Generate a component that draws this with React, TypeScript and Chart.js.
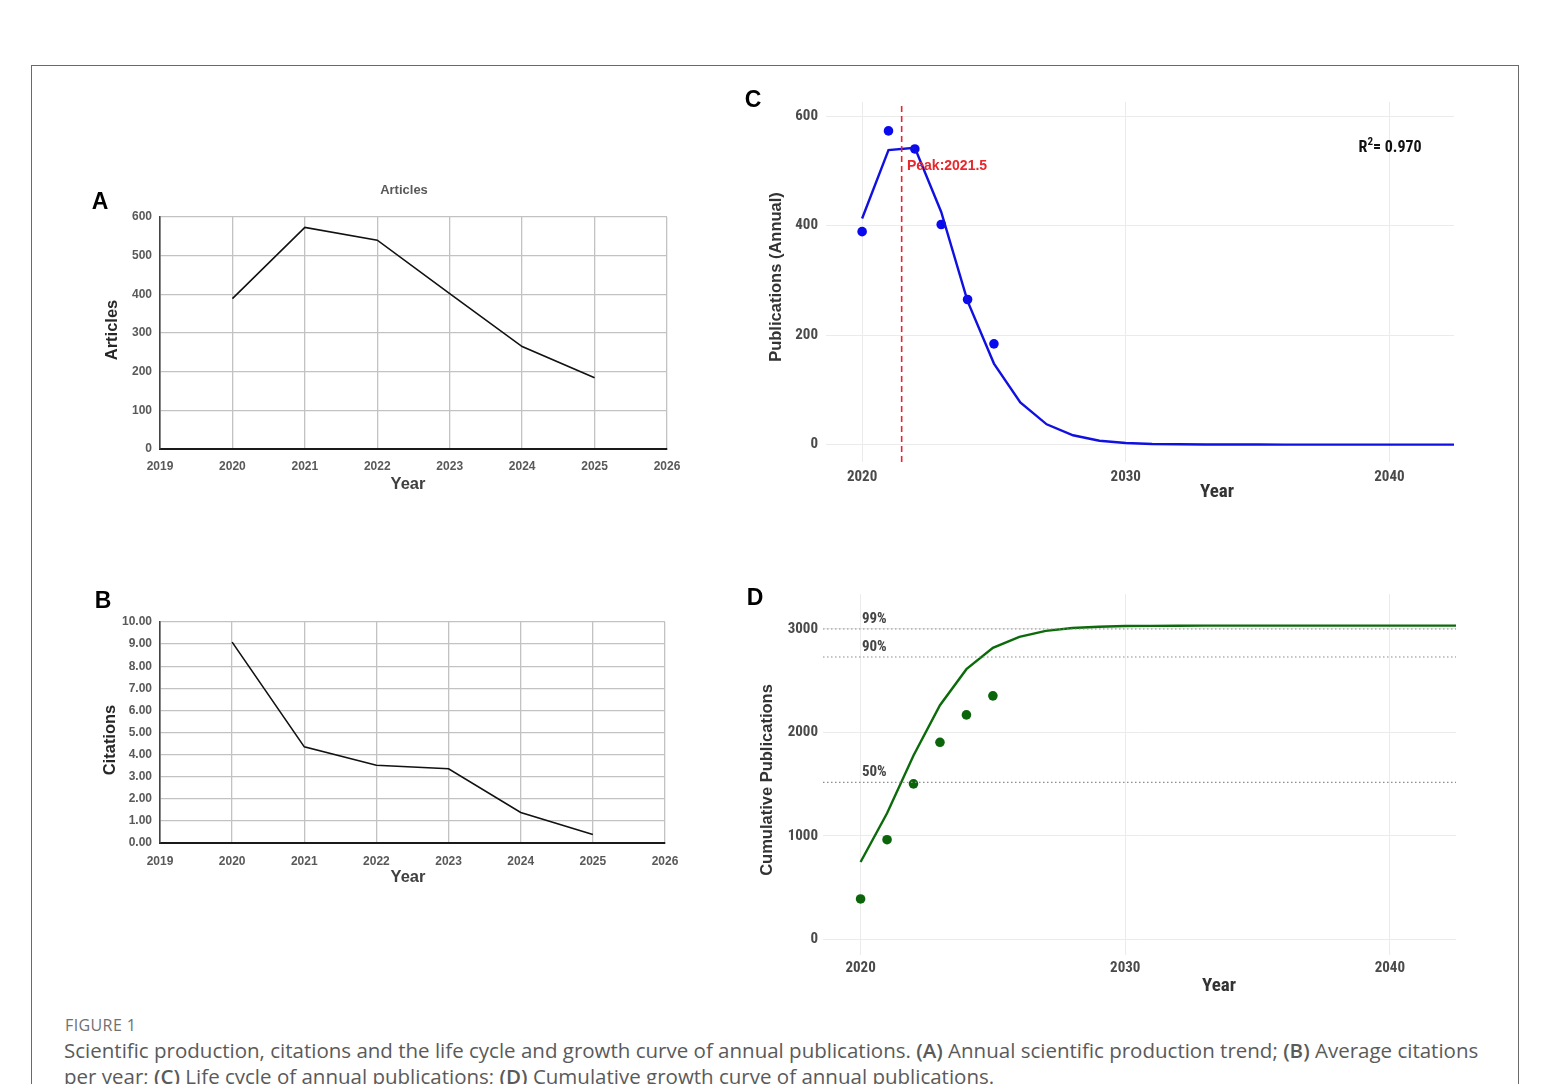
import React, { useEffect, useRef } from "react";
import { Chart, registerables } from "chart.js";
Chart.register(...registerables);

// ---------------- data ----------------
const years = [2020, 2021, 2022, 2023, 2024, 2025];
const articles = [389, 573, 540, 402, 265, 184];
const avgCitations = [9.09, 4.35, 3.52, 3.36, 1.38, 0.38];
const cumulativeArticles = [389, 962, 1502, 1904, 2169, 2353];

const fitYears = [2020, 2021, 2022, 2023, 2024, 2025, 2026, 2027, 2028, 2029, 2030, 2031, 2032, 2033, 2034, 2035, 2036, 2037, 2038, 2039, 2040, 2041, 2042, 2043];
const fitAnnual = [413, 538, 542, 425, 262, 148, 77, 37, 17, 7, 3, 1.2, 0.5, 0.2, 0.1, 0.05, 0, 0, 0, 0, 0, 0, 0, 0];
const fitCumulative = [746, 1218, 1776, 2263, 2611, 2818, 2923, 2981, 3009, 3022, 3028, 3030, 3031, 3032, 3032, 3032, 3032, 3032, 3032, 3032, 3032, 3032, 3032, 3032];

const peakYear = 2021.5;
const rSquared = "0.970";
const saturationLevels = [3000, 2729, 1516];
const saturationLabels = ["99%", "90%", "50%"];

const xTicksAB = [2019, 2020, 2021, 2022, 2023, 2024, 2025, 2026];
const yTicksA = [0, 100, 200, 300, 400, 500, 600];
const yTicksB = [0, 1, 2, 3, 4, 5, 6, 7, 8, 9, 10];
const xTicksCD = [2020, 2030, 2040];
const yTicksC = [0, 200, 400, 600];
const yTicksD = [0, 1000, 2000, 3000];

// ---------------- styling ----------------
const sans = "'Liberation Sans', Arial, sans-serif";
const narrow = "'Liberation Sans Narrow', 'Arial Narrow', 'Roboto Condensed', 'DejaVu Sans Condensed', 'Liberation Sans', sans-serif";

type Box = { left: number; top: number; width: number; height: number };
type Area = { left: number; top: number; right: number; bottom: number };

type Run = { text: string; font: string; dy?: number };
type TextItem = {
  text?: string;
  runs?: Run[];
  x: number;
  y: number;
  font?: string;
  color: string;
  align?: CanvasTextAlign;
  rotate?: boolean;
  data?: boolean;
  dyPx?: number;
};

function textPlugin(items: TextItem[], ox: number, oy: number) {
  return {
    id: "pageText",
    afterDatasetsDraw(chart: any) {
      const ctx = chart.ctx as CanvasRenderingContext2D;
      items.forEach((it) => {
        let x = it.x - ox;
        let y = it.y - oy;
        if (it.data) {
          x = chart.scales.x.getPixelForValue(it.x);
          y = chart.scales.y.getPixelForValue(it.y);
        }
        y += it.dyPx || 0;
        ctx.save();
        ctx.translate(x, y);
        if (it.rotate) ctx.rotate(-Math.PI / 2);
        ctx.fillStyle = it.color;
        ctx.textBaseline = "middle";
        if (it.runs) {
          ctx.textAlign = "left";
          let cx = 0;
          it.runs.forEach((r) => {
            ctx.font = r.font;
            ctx.fillText(r.text, cx, r.dy || 0);
            cx += ctx.measureText(r.text).width;
          });
        } else {
          ctx.font = it.font || `bold 13px ${sans}`;
          ctx.textAlign = it.align || "center";
          ctx.fillText(it.text || "", 0, 0);
        }
        ctx.restore();
      });
    },
  };
}

function layoutFor(box: Box, area: Area) {
  return {
    padding: { top: area.top - box.top, right: box.left + box.width - area.right, left: 0, bottom: 0 },
    yWidth: area.left - box.left,
    xHeight: box.top + box.height - area.bottom,
  };
}

const fixTicks = (vals: number[]) => (scale: any) => {
  scale.ticks = vals.map((v) => ({ value: v }));
};

function axis(o: {
  min: number;
  max: number;
  ticks: number[];
  fmt: (v: number) => string;
  fitW?: number;
  fitH?: number;
  font: any;
  color: string;
  pad: number;
  gridColor: string;
  gridWidth: number;
  border: any;
}) {
  return {
    type: "linear",
    min: o.min,
    max: o.max,
    afterBuildTicks: fixTicks(o.ticks),
    afterFit: (s: any) => {
      if (o.fitW !== undefined) s.width = o.fitW;
      if (o.fitH !== undefined) s.height = o.fitH;
    },
    ticks: {
      callback: (v: any) => o.fmt(Number(v)),
      font: o.font,
      color: o.color,
      padding: o.pad,
      maxRotation: 0,
      autoSkip: false,
    },
    grid: { color: o.gridColor, lineWidth: o.gridWidth, drawTicks: false },
    border: o.border,
  };
}

function ChartPanel({ box, makeConfig }: { box: Box; makeConfig: () => any }) {
  const ref = useRef<HTMLCanvasElement | null>(null);
  useEffect(() => {
    if (!ref.current) return;
    const chart = new Chart(ref.current, makeConfig());
    return () => chart.destroy();
  }, []);
  return (
    <canvas
      ref={ref}
      width={box.width}
      height={box.height}
      style={{ position: "absolute", left: box.left, top: box.top, width: box.width, height: box.height }}
    />
  );
}

const baseOptions = {
  animation: false,
  responsive: false,
  devicePixelRatio: 1,
  plugins: { legend: { display: false }, tooltip: { enabled: false } },
  elements: { line: { tension: 0 } },
};

// ---------------- Panel A ----------------
const boxA: Box = { left: 40, top: 170, width: 680, height: 340 };
const areaA: Area = { left: 160, top: 217, right: 667, bottom: 449 };
function configA() {
  const L = layoutFor(boxA, areaA);
  const tickFont = { family: sans, size: 12, weight: "bold" };
  return {
    type: "line",
    data: {
      datasets: [
        {
          data: years.map((y, i) => ({ x: y, y: articles[i] })),
          borderColor: "#111",
          borderWidth: 1.6,
          pointRadius: 0,
          fill: false,
        },
      ],
    },
    options: {
      ...baseOptions,
      layout: { padding: L.padding },
      scales: {
        x: axis({ min: 2019, max: 2026, ticks: xTicksAB, fmt: (v) => String(v), fitH: L.xHeight, font: tickFont, color: "#595959", pad: 10, gridColor: "#c2c2c2", gridWidth: 1.3, border: { color: "#1a1a1a", width: 2 } }),
        y: axis({ min: 0, max: 600, ticks: yTicksA, fmt: (v) => String(v), fitW: L.yWidth, font: tickFont, color: "#595959", pad: 8, gridColor: "#c2c2c2", gridWidth: 1.3, border: { color: "#444", width: 1.6 } }),
      },
    },
    plugins: [
      textPlugin(
        [
          { text: "A", x: 100, y: 203, font: `bold 23px ${sans}`, color: "#000" },
          { text: "Articles", x: 404, y: 190, font: `bold 13px ${sans}`, color: "#595959" },
          { text: "Articles", x: 112, y: 330, font: `bold 16.5px ${sans}`, color: "#262626", rotate: true },
          { text: "Year", x: 408, y: 484, font: `bold 16.5px ${sans}`, color: "#404040" },
        ],
        boxA.left,
        boxA.top
      ),
    ],
  };
}

// ---------------- Panel B ----------------
const boxB: Box = { left: 40, top: 585, width: 680, height: 320 };
const areaB: Area = { left: 160, top: 622, right: 665, bottom: 843 };
function configB() {
  const L = layoutFor(boxB, areaB);
  const tickFont = { family: sans, size: 12, weight: "bold" };
  return {
    type: "line",
    data: {
      datasets: [
        {
          data: years.map((y, i) => ({ x: y, y: avgCitations[i] })),
          borderColor: "#111",
          borderWidth: 1.6,
          pointRadius: 0,
          fill: false,
        },
      ],
    },
    options: {
      ...baseOptions,
      layout: { padding: L.padding },
      scales: {
        x: axis({ min: 2019, max: 2026, ticks: xTicksAB, fmt: (v) => String(v), fitH: L.xHeight, font: tickFont, color: "#595959", pad: 11, gridColor: "#c2c2c2", gridWidth: 1.3, border: { color: "#1a1a1a", width: 2 } }),
        y: axis({ min: 0, max: 10, ticks: yTicksB, fmt: (v) => v.toFixed(2), fitW: L.yWidth, font: tickFont, color: "#595959", pad: 8, gridColor: "#c2c2c2", gridWidth: 1.3, border: { color: "#444", width: 1.6 } }),
      },
    },
    plugins: [
      textPlugin(
        [
          { text: "B", x: 103, y: 602, font: `bold 23px ${sans}`, color: "#000" },
          { text: "Citations", x: 110, y: 740, font: `bold 16.5px ${sans}`, color: "#262626", rotate: true },
          { text: "Year", x: 408, y: 877, font: `bold 16.5px ${sans}`, color: "#404040" },
        ],
        boxB.left,
        boxB.top
      ),
    ],
  };
}

// ---------------- Panel C ----------------
const boxC: Box = { left: 745, top: 85, width: 760, height: 430 };
const areaC: Area = { left: 826, top: 97, right: 1454, bottom: 462 };
const cXMin = 2018.63;
const cXMax = 2042.45;
const cYMin = -31.8;
const cYMax = 625.8;
function configC() {
  const L = layoutFor(boxC, areaC);
  const tickFont = { family: narrow, size: 15, weight: "bold" };
  return {
    type: "line",
    data: {
      datasets: [
        {
          data: [
            { x: peakYear, y: cYMin },
            { x: peakYear, y: cYMax },
          ],
          borderColor: "#e8262b",
          borderWidth: 1.6,
          borderDash: [6, 4],
          pointRadius: 0,
        },
        {
          data: fitYears.map((y, i) => ({ x: y, y: fitAnnual[i] })),
          borderColor: "#1010e0",
          borderWidth: 2.4,
          pointRadius: 0,
        },
        {
          data: years.map((y, i) => ({ x: y, y: articles[i] })),
          showLine: false,
          pointRadius: 4.8,
          pointBackgroundColor: "#0a0aef",
          pointBorderColor: "#0a0aef",
          pointBorderWidth: 0,
        },
      ],
    },
    options: {
      ...baseOptions,
      layout: { padding: L.padding },
      scales: {
        x: axis({ min: cXMin, max: cXMax, ticks: xTicksCD, fmt: (v) => String(v), fitH: L.xHeight, font: tickFont, color: "#4a4a4a", pad: 6, gridColor: "#ebebeb", gridWidth: 1, border: { display: false } }),
        y: axis({ min: cYMin, max: cYMax, ticks: yTicksC, fmt: (v) => String(v), fitW: L.yWidth, font: tickFont, color: "#4a4a4a", pad: 8, gridColor: "#ebebeb", gridWidth: 1, border: { display: false } }),
      },
    },
    plugins: [
      textPlugin(
        [
          { text: "C", x: 753, y: 101, font: `bold 23px ${sans}`, color: "#000" },
          { text: "Publications (Annual)", x: 776, y: 277, font: `bold 16.5px ${sans}`, color: "#333", rotate: true },
          { text: "Year", x: 1217, y: 492, font: `bold 19px ${narrow}`, color: "#333" },
          { text: "Peak:" + String(peakYear), x: 2021.7, y: 508, data: true, align: "left", font: `bold 14px ${sans}`, color: "#e8262b" },
          {
            x: 2038.83,
            y: 542,
            data: true,
            color: "#111",
            runs: [
              { text: "R", font: `bold 16px ${narrow}` },
              { text: "2", font: `bold 11px ${narrow}`, dy: -6 },
              { text: "= " + rSquared, font: `bold 16px ${narrow}` },
            ],
          },
        ],
        boxC.left,
        boxC.top
      ),
    ],
  };
}

// ---------------- Panel D ----------------
const boxD: Box = { left: 745, top: 580, width: 760, height: 430 };
const areaD: Area = { left: 823, top: 591, right: 1456, bottom: 955 };
const dXMin = 2018.58;
const dXMax = 2042.5;
const dYMin = -153;
const dYMax = 3338;
function configD() {
  const L = layoutFor(boxD, areaD);
  const tickFont = { family: narrow, size: 15, weight: "bold" };
  const levelSets = saturationLevels.map((lvl) => ({
    data: [
      { x: dXMin, y: lvl },
      { x: dXMax, y: lvl },
    ],
    borderColor: "#8c8c8c",
    borderWidth: 1.1,
    borderDash: [1.5, 2.5],
    pointRadius: 0,
  }));
  return {
    type: "line",
    data: {
      datasets: [
        ...levelSets,
        {
          data: fitYears.map((y, i) => ({ x: y, y: fitCumulative[i] })),
          borderColor: "#0b6b0b",
          borderWidth: 2.4,
          pointRadius: 0,
        },
        {
          data: years.map((y, i) => ({ x: y, y: cumulativeArticles[i] })),
          showLine: false,
          pointRadius: 4.8,
          pointBackgroundColor: "#0b650b",
          pointBorderColor: "#0b650b",
          pointBorderWidth: 0,
        },
      ],
    },
    options: {
      ...baseOptions,
      layout: { padding: L.padding },
      scales: {
        x: axis({ min: dXMin, max: dXMax, ticks: xTicksCD, fmt: (v) => String(v), fitH: L.xHeight, font: tickFont, color: "#4a4a4a", pad: 4, gridColor: "#ebebeb", gridWidth: 1, border: { display: false } }),
        y: axis({ min: dYMin, max: dYMax, ticks: yTicksD, fmt: (v) => String(v), fitW: L.yWidth, font: tickFont, color: "#4a4a4a", pad: 5, gridColor: "#ebebeb", gridWidth: 1, border: { display: false } }),
      },
    },
    plugins: [
      textPlugin(
        [
          { text: "D", x: 755, y: 599, font: `bold 23px ${sans}`, color: "#000" },
          { text: "Cumulative Publications", x: 767, y: 780, font: `bold 16.5px ${sans}`, color: "#333", rotate: true },
          { text: "Year", x: 1219, y: 986, font: `bold 19px ${narrow}`, color: "#333" },
          ...saturationLevels.map((lvl, i) => ({
            text: saturationLabels[i],
            x: 2020.05,
            y: lvl,
            data: true,
            dyPx: -10,
            align: "left" as CanvasTextAlign,
            font: `bold 15px ${narrow}`,
            color: "#444",
          })),
        ],
        boxD.left,
        boxD.top
      ),
    ],
  };
}

export default function App() {
  return (
    <div
      style={{
        position: "absolute",
        left: 0,
        top: 0,
        width: 1549,
        height: 1084,
        overflow: "hidden",
        background: "#fff",
      }}
    >
      <div
        style={{
          position: "absolute",
          left: 31,
          top: 65,
          width: 1486,
          height: 1100,
          border: "1px solid #6a6a6a",
        }}
      />
      <ChartPanel box={boxA} makeConfig={configA} />
      <ChartPanel box={boxB} makeConfig={configB} />
      <ChartPanel box={boxC} makeConfig={configC} />
      <ChartPanel box={boxD} makeConfig={configD} />
      <div
        style={{
          position: "absolute",
          left: 65,
          top: 1014,
          fontFamily: "'Open Sans', sans-serif",
          fontSize: 16,
          letterSpacing: 0.4,
          color: "#707070",
          whiteSpace: "nowrap",
          lineHeight: "22px",
        }}
      >
        FIGURE 1
      </div>
      <div
        style={{
          position: "absolute",
          left: 64,
          top: 1037,
          fontFamily: "'Open Sans', sans-serif",
          fontSize: 20.5,
          color: "#5a5a5a",
          whiteSpace: "nowrap",
          lineHeight: "26px",
        }}
      >
        Scientific production, citations and the life cycle and growth curve of annual publications. <b style={{ fontWeight: 600 }}>(A)</b> Annual scientific production trend; <b style={{ fontWeight: 600 }}>(B)</b> Average citations
        <br />
        per year; <b style={{ fontWeight: 600 }}>(C)</b> Life cycle of annual publications; <b style={{ fontWeight: 600 }}>(D)</b> Cumulative growth curve of annual publications.
      </div>
    </div>
  );
}
